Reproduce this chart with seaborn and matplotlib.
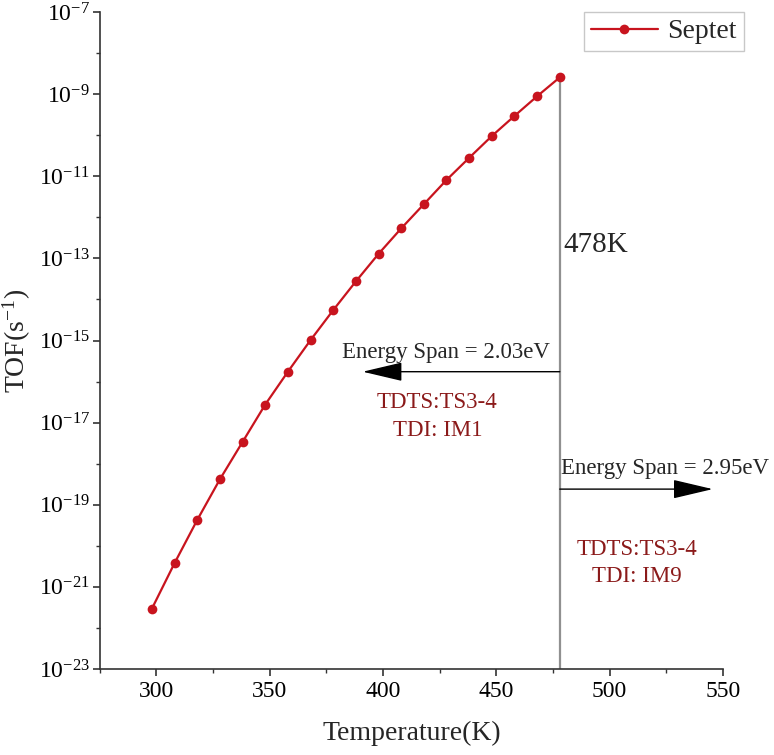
import matplotlib
matplotlib.use("Agg")
import matplotlib.pyplot as plt
import matplotlib.ticker as mticker
import numpy as np
import pandas as pd
import seaborn as sns

# temperature (K) and log10 of TOF
temps = [298, 308, 318, 328, 338, 348, 358, 368, 378, 388,
         398, 408, 418, 428, 438, 448, 458, 468, 478]
log_tof = [-21.53, -20.42, -19.37, -18.38, -17.47, -16.56, -15.76, -14.99,
           -14.26, -13.56, -12.89, -12.27, -11.68, -11.09, -10.55, -10.02,
           -9.53, -9.05, -8.59]
series_name = "Septet"
span_left = "Energy Span = 2.03eV"
span_right = "Energy Span = 2.95eV"
tdts_left = ["TDTS:TS3-4", "TDI: IM1"]
tdts_right = ["TDTS:TS3-4", "TDI: IM9"]

df = pd.DataFrame({"T": temps, "TOF": 10.0 ** np.array(log_tof),
                   "state": series_name})

sns.set_style("ticks")
plt.rcParams['font.family'] = ['Liberation Serif', 'DejaVu Serif']
plt.rcParams['mathtext.fontset'] = 'custom'
plt.rcParams['mathtext.rm'] = 'Liberation Serif'
plt.rcParams['mathtext.it'] = 'Liberation Serif:italic'
plt.rcParams['mathtext.bf'] = 'Liberation Serif:bold'

fig = plt.figure(figsize=(7.74, 7.55), dpi=100)
ax = fig.add_axes([0.129, 0.114, 0.805, 0.870])

red = "#C8141E"
sns.lineplot(data=df, x="T", y="TOF", hue="state", palette=[red],
             marker="o", markersize=7, markeredgewidth=0, linewidth=1.6,
             ax=ax)
ax.set_yscale("log")
ax.set_xlim(275, 550)
ax.set_ylim(1e-23, 1e-7)

ax.xaxis.set_major_locator(mticker.MultipleLocator(50))
ax.xaxis.set_minor_locator(mticker.MultipleLocator(25))
ax.yaxis.set_major_locator(mticker.FixedLocator([10.0 ** e for e in range(-23, -6, 2)]))
ax.yaxis.set_minor_locator(mticker.FixedLocator([10.0 ** e for e in range(-22, -7, 2)]))
ax.yaxis.set_major_formatter(mticker.FuncFormatter(
    lambda v, p: r"$10^{%d}$" % int(round(np.log10(v)))))
ax.yaxis.set_minor_formatter(mticker.NullFormatter())
ax.tick_params(axis="both", which="major", length=5, width=1.2,
               labelsize=17, direction="out", colors="#333333",
               labelcolor="black")
ax.tick_params(axis="y", which="major", pad=2)
ax.tick_params(axis="both", which="minor", length=3, width=1.0,
               direction="out", colors="#333333")
for s in ["top", "right"]:
    ax.spines[s].set_visible(False)
for s in ["left", "bottom"]:
    ax.spines[s].set_linewidth(1.2)
    ax.spines[s].set_color("#333333")

ax.set_xlabel("Temperature(K)", fontsize=20, labelpad=14)
ax.set_ylabel(r"TOF(s$^{\mathregular{-1}}$)", fontsize=20)
ax.yaxis.set_label_coords(-0.108, 0.5)

# vertical marker at the highest temperature
t_end = temps[-1]
ax.vlines(t_end, 1e-23, 10.0 ** log_tof[-1], color="#909090", linewidth=1.6,
          zorder=1)
ax.text(t_end + 1.5, 10.0 ** -12.67, "%dK" % t_end, fontsize=21,
        va="center", ha="left")

arrow_kw = dict(arrowstyle="-|>,head_length=1.4,head_width=0.33",
                color="black", lw=1.0, mutation_scale=18, shrinkA=0,
                shrinkB=0)
ax.annotate("", xy=(391, 10.0 ** -15.76), xytext=(t_end, 10.0 ** -15.76),
            arrowprops=arrow_kw)
ax.text(t_end - 4.4, 10.0 ** -15.3, span_left, fontsize=16.5,
        ha="right", va="center")
ax.text(t_end - 54, 10.0 ** -16.52, tdts_left[0], fontsize=16.5,
        ha="center", va="center", color="#8B1A1A")
ax.text(t_end - 54, 10.0 ** -17.18, tdts_left[1], fontsize=16.5,
        ha="center", va="center", color="#8B1A1A")

ax.annotate("", xy=(545.5, 10.0 ** -18.62), xytext=(t_end, 10.0 ** -18.62),
            arrowprops=arrow_kw)
ax.text(t_end + 0.6, 10.0 ** -18.11, span_right, fontsize=16.5,
        ha="left", va="center")
ax.text(t_end + 34, 10.0 ** -20.08, tdts_right[0], fontsize=16.5,
        ha="center", va="center", color="#8B1A1A")
ax.text(t_end + 34, 10.0 ** -20.74, tdts_right[1], fontsize=16.5,
        ha="center", va="center", color="#8B1A1A")

leg = ax.legend(loc="upper right", bbox_to_anchor=(0.961, 0.984),
                bbox_transform=fig.transFigure, fontsize=20, frameon=True,
                fancybox=False, handlelength=2.4, borderpad=0.25,
                handletextpad=0.35, borderaxespad=0)
leg.get_frame().set_edgecolor("#BBBBBB")
leg.get_frame().set_linewidth(1.0)

fig.savefig("out.png", dpi=100)
